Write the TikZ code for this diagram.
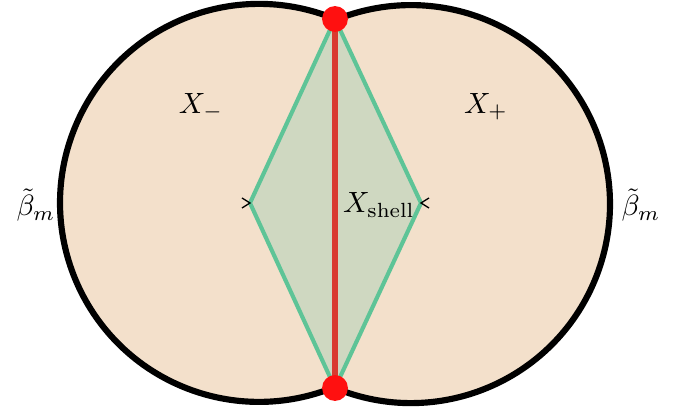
\documentclass[tikz,border=0pt]{standalone}
\usepackage{amsmath,amssymb}
\usepackage{tikz}
\usetikzlibrary{calc}

\definecolor{peach}{HTML}{F3E0CB}
\definecolor{shellfill}{HTML}{CFD8C1}
\definecolor{shellline}{HTML}{5EC497}
\definecolor{seam}{HTML}{D93A30}
\definecolor{pin}{HTML}{FF1010}

\begin{document}
\begin{tikzpicture}[
          x=0.012cm, y=0.012cm,
          region/.style={fill=peach, draw=none},
          rim/.style={draw=black, line width=2.1pt},
          shell/.style={draw=shellline, line width=1.4pt, fill=shellfill, line join=miter},
          seamline/.style={draw=seam, line width=2.1pt},
          dot/.style={circle, fill=pin, inner sep=0pt, minimum size=0.31cm},
          tick/.style={draw=black, line width=0.45pt},
          lbl/.style={inner sep=0pt}
        ]
        \useasboundingbox (0,0) rectangle (681,415);
        % the two balls
        \coordinate (cl) at (259,211);
        \coordinate (cr) at (411,211);
        \fill[region] (cl) circle[radius=199];
        \fill[region] (cr) circle[radius=199];
        % shell region
        \coordinate (top) at (335,396);
        \coordinate (bot) at (335,27);
        \coordinate (left) at (250,212);
        \coordinate (right) at (421,212);
        \draw[shell] (top) -- (left) -- (bot) -- (right) -- cycle;
        \draw[seamline] (top) -- (bot);
        % outer rims
        \draw[rim] (top) arc[start angle=67.56, end angle=292.44, radius=199];
        \draw[rim] (bot) arc[start angle=-112.44, end angle=112.44, radius=199];
        \node[dot] (ptop) at (top) {};
        \node[dot] (pbot) at (bot) {};
        % small marks at the shell corners
        \draw[tick] ($(left)+(-8,5)$) -- (left) -- ($(left)+(-8,-5)$);
        \draw[tick] ($(right)+(8,5)$) -- (right) -- ($(right)+(8,-5)$);
        % labels
        \node[lbl] (xm) at (201,308) {$X_-$};
        \node[lbl] (xp) at (486,308) {$X_+$};
        \node[lbl] (xs) at (379,210) {$X_{\text{shell}}$};
        \node[lbl] (bl) at (36,210) {$\tilde{\beta}_m$};
        \node[lbl] (br) at (641,210) {$\tilde{\beta}_m$};
      \end{tikzpicture}
\end{document}
